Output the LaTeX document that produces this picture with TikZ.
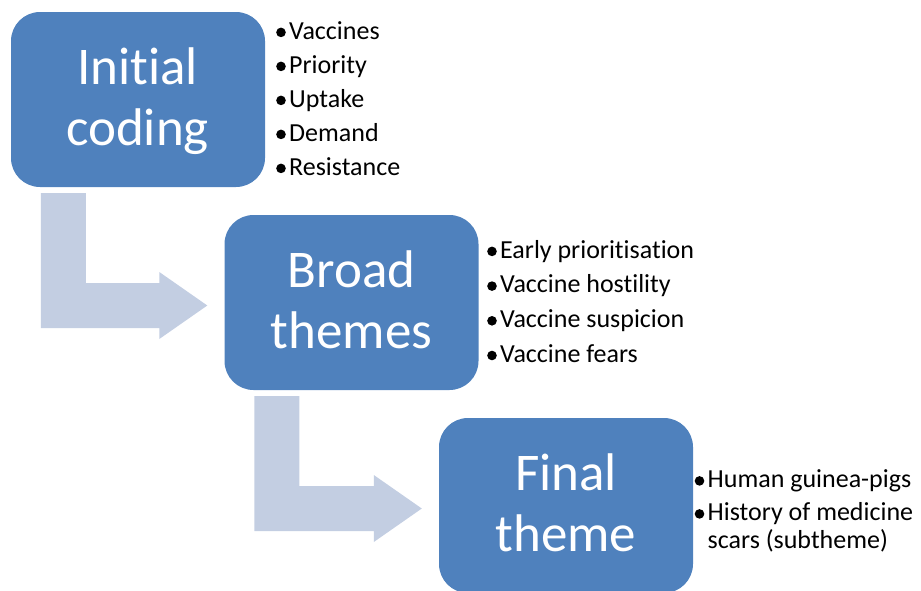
\documentclass[tikz,border=0pt]{standalone}
\usepackage{fontspec}
\setmainfont{Carlito}[Ligatures={NoCommon}]
\usetikzlibrary{calc}
\definecolor{boxblue}{HTML}{4F81BD}
\definecolor{arrowblue}{HTML}{C3CEE2}
\newcommand\bul{\makebox[14pt][l]{\hspace{1pt}\raisebox{1.8pt}{\tikz\fill (0,0) circle[radius=4.8pt];}}}
\newcommand\bigfont{\fontsize{53}{61}\selectfont}
\newcommand\listfont{\fontsize{26}{34}\selectfont}
\newcommand\twolines[2]{\vtop{\hbox to 0pt{\hss #1\hss}\hbox to 0pt{\hss #2\hss}}}
\newcommand\bendarrow[3]{%
  \path ($(#1.south west)+(30,6)$) coordinate (#3s)
        ($(#2.west)+(-17,3)$) coordinate (#3t);
  \fill[bendarrowfill] (#3s) -- ++(45,0) |- ($(#3t)+(-48,-22.5)$) -- ++(0,-11)
        -- (#3t) -- ++(-48,33.5) -- ++(0,-11) -| (#3s) -- cycle;}
\begin{document}
\begin{tikzpicture}[x=1pt,y=-1pt,
  stagebox/.style={fill=boxblue, rounded corners=29pt, minimum width=254pt,
    minimum height=175pt, inner sep=0pt, draw=none},
  stagelabel/.style={anchor=base, inner sep=0pt, text=white, font=\bigfont},
  itemlist/.style={anchor=base west, inner sep=0pt, text=black, font=\listfont},
  bendarrowfill/.style={fill=arrowblue, draw=none}]
\useasboundingbox (0,0) rectangle (921,590);

\node[stagebox] (b1) at (138,99.5) {};
\node[stagebox] (b2) at (351.5,302.5) {};
\node[stagebox] (b3) at (566,505.5) {};

\bendarrow{b1}{b2}{ar1}
\bendarrow{b2}{b3}{ar2}

\node[stagelabel] (l1) at (137.5,84) {\twolines{Initial}{coding}};
\node[stagelabel] (l2) at (351.5,287) {\twolines{Broad}{themes}};
\node[stagelabel] (l3) at (566,490) {\twolines{Final}{theme}};

\node[itemlist] (t1) at (275,39) {\vtop{\hbox{\bul Vaccines}\hbox{\bul Priority}\hbox{\bul Uptake}\hbox{\bul Demand}\hbox{\bul Resistance}}};
\node[itemlist, font=\fontsize{26}{34.7}\selectfont] (t2) at (486,258) {\vtop{\hbox{\bul Early prioritisation}\hbox{\bul Vaccine hostility}\hbox{\bul Vaccine suspicion}\hbox{\bul Vaccine fears}}};
\node[itemlist, font=\fontsize{26}{28}\selectfont] (t3) at (693.5,487.5) {\vtop{\hbox{\bul Human guinea-pigs}\vskip5pt\hbox{\bul History of medicine}\hbox{\hspace{14pt}scars (subtheme)}}};
\end{tikzpicture}
\end{document}
